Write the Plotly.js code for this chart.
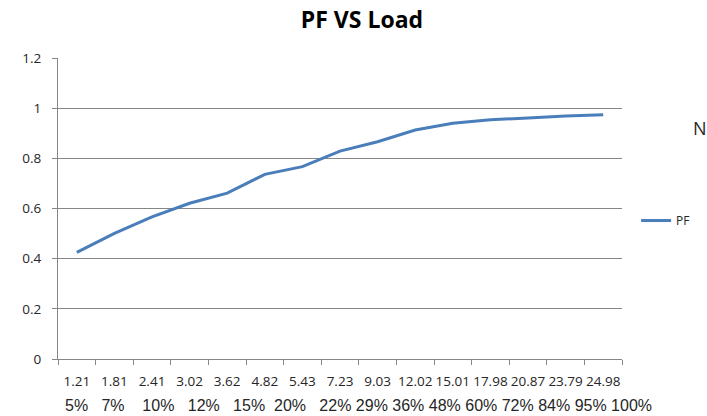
<!DOCTYPE html>
<html>
<head>
<meta charset="utf-8">
<script src="https://cdn.plot.ly/plotly-3.0.1.min.js"></script>
<style>html,body{margin:0;padding:0;background:#fff;overflow:hidden}#chart{width:707px;height:416px}</style>
</head>
<body>
<div id="chart"></div>
<script>
// Data
const loadValues = ['1.21','1.81','2.41','3.02','3.62','4.82','5.43','7.23','9.03','12.02','15.01','17.98','20.87','23.79','24.98'];
const loadPercent = ['5%','7%','10%','12%','15%','20%','22%','29%','36%','48%','60%','72%','84%','95%','100%'];
const pfValues = [0.425,0.501,0.567,0.621,0.661,0.736,0.767,0.829,0.866,0.913,0.940,0.954,0.961,0.969,0.974];
const seriesName = 'PF';
const chartTitle = 'PF VS Load';

// spacing (in non-breaking spaces) between the percentage labels, as typed in the original
const pctGaps = [3,4,3,3,2,3,1,1,1,1,1,1,1,1];
const pctText = loadPercent.map((t,i)=> t + (i < pctGaps.length ? '&nbsp;'.repeat(pctGaps[i]) : '')).join('');

const gridCol = '#868686';
const textCol = '#262626';

const trace = {
  x: loadValues,
  y: pfValues,
  type: 'scatter',
  mode: 'lines',
  name: seriesName,
  line: {color: '#4a7ebb', width: 3}
};

const layout = {
  width: 707, height: 416,
  margin: {l: 58, r: 75, t: 58, b: 57},
  paper_bgcolor: '#fff', plot_bgcolor: '#fff',
  font: {family: '"Open Sans", sans-serif', size: 13, color: textCol},
  title: {
    text: '<b>' + chartTitle + '</b>',
    font: {family: '"Open Sans", sans-serif', size: 23, color: '#000'},
    x: 0.512, xref: 'container', xanchor: 'center',
    y: 0.952, yref: 'container', yanchor: 'middle'
  },
  xaxis: {
    type: 'category',
    range: [-0.5, loadValues.length - 0.5],
    autorange: false,
    showgrid: false,
    showline: true, linecolor: gridCol, linewidth: 1,
    ticks: 'outside', ticklen: 5, tickcolor: gridCol, tickson: 'boundaries',
    tickangle: 0,
    tickfont: {size: 13.5, color: textCol},
    ticklabelstandoff: 10,
    fixedrange: true
  },
  yaxis: {
    range: [0, 1.2], tick0: 0, dtick: 0.2,
    showgrid: true, gridcolor: gridCol, gridwidth: 1,
    zeroline: false,
    showline: true, linecolor: gridCol, linewidth: 1,
    ticks: 'outside', ticklen: 5, tickcolor: gridCol,
    tickfont: {size: 13.5, color: textCol},
    ticklabelstandoff: 8,
    fixedrange: true
  },
  showlegend: true,
  legend: {
    x: 1.025, xanchor: 'left', y: 0.46, yanchor: 'middle',
    font: {size: 12, color: textCol},
    bgcolor: 'rgba(0,0,0,0)', borderwidth: 0
  },
  annotations: [
    {
      text: pctText, showarrow: false,
      xref: 'paper', yref: 'paper',
      x: 0.0087, xanchor: 'left',
      y: -0.153, yanchor: 'middle',
      font: {family: '"Liberation Sans", Arial, sans-serif', size: 16, color: textCol}
    },
    {
      text: 'N', showarrow: false,
      xref: 'paper', yref: 'paper',
      x: 1.122, xanchor: 'left',
      y: 0.767, yanchor: 'middle',
      font: {family: '"Open Sans", sans-serif', size: 18, color: textCol}
    }
  ]
};

Plotly.newPlot('chart', [trace], layout, {displayModeBar: false, staticPlot: true});
</script>
</body>
</html>
